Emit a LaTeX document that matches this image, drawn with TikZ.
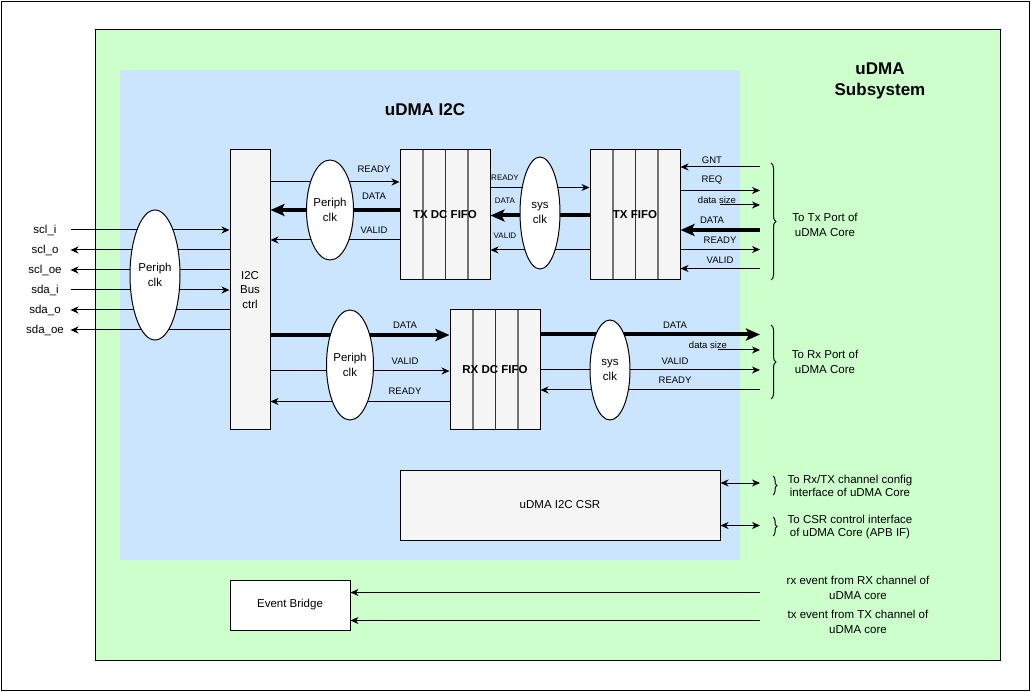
\documentclass[tikz,border=0pt]{standalone}
\usepackage{fontspec}
\setmainfont{Liberation Sans}
\usetikzlibrary{calc,shapes.geometric,arrows.meta,decorations.pathreplacing}

\definecolor{subsys}{HTML}{CCFFCC}
\definecolor{i2cblue}{HTML}{CCE5FF}
\definecolor{boxgray}{HTML}{F5F5F5}

\begin{document}
\begin{tikzpicture}[x=1pt,y=-1pt,line width=1pt,
      font=\fontsize{11.5}{14.5}\selectfont,
      blk/.style={draw,rectangle,fill=boxgray,inner sep=0pt,align=center},
      fifo/.style={blk,minimum width=90pt,font=\fontsize{11.5}{14.5}\selectfont\bfseries,
        path picture={
          \foreach \k in {0.25,0.75}
            \draw[black!55,line width=2pt]
              ($(path picture bounding box.north west)!\k!(path picture bounding box.north east)$) --
              ($(path picture bounding box.south west)!\k!(path picture bounding box.south east)$);
          \draw[black!80] (path picture bounding box.north) -- (path picture bounding box.south);}},
      clk/.style={draw,ellipse,fill=white,inner sep=0pt,align=center},
      sig/.style={-{Stealth[length=8pt,width=7pt,inset=2.5pt]}},
      bus/.style={line width=4pt,-{Stealth[length=14pt,width=12pt,inset=3pt]}},
      both/.style={{Stealth[length=8pt,width=7pt,inset=2.5pt]}-{Stealth[length=8pt,width=7pt,inset=2.5pt]}},
      lbl/.style={font=\fontsize{9.5}{11}\selectfont,inner sep=0pt},
      slbl/.style={font=\fontsize{8}{9}\selectfont,inner sep=0pt},
      pin/.style={minimum width=50pt,inner sep=0pt},
      brc/.style={decorate,decoration={brace,amplitude=5pt}},
      title/.style={font=\fontsize{17}{21}\selectfont\bfseries,align=center}]
    \useasboundingbox (0,0) rectangle (1031,692);
    \draw (1.5,1.5) rectangle (1029.5,690.5);

    % frames
    \draw[fill=subsys] (95,30) rectangle (1000,660);
    \fill[i2cblue] (120,70) rectangle (740,560);
    \node[title] (subsys) at (880,81) {uDMA\\Subsystem};
    \node[title] (i2c) at (425,110) {uDMA I2C};

    % blocks
    \node[blk,minimum width=40pt,minimum height=280pt] (busctrl) at (250,290) {I2C\\Bus\\ctrl};
    \node[fifo,minimum height=130pt] (txdc) at (445,215) {TX DC FIFO};
    \node[fifo,minimum height=130pt] (txfifo) at (635,215) {TX FIFO};
    \node[fifo,minimum height=120pt] (rxdc) at (495,370) {RX DC FIFO};
    \node[blk,minimum width=320pt,minimum height=70pt] (csr) at (560,505) {uDMA I2C CSR};
    \node[blk,fill=white,minimum width=120pt,minimum height=50pt] (evb) at (290,605) {Event Bridge};
    \coordinate (core) at (760,0);

    % i2c pins
    \node[pin] (scli) at (45,230) {scl\_i};
    \node[pin,node distance=20pt,below of=scli] (sclo) {scl\_o};
    \node[pin,node distance=20pt,below of=sclo] (scloe) {scl\_oe};
    \node[pin,node distance=20pt,below of=scloe] (sdai) {sda\_i};
    \node[pin,node distance=20pt,below of=sdai] (sdao) {sda\_o};
    \node[pin,node distance=20pt,below of=sdao] (sdaoe) {sda\_oe};
    \draw[sig] (scli.east) -- (scli -| busctrl.west);
    \draw[sig] (sclo -| busctrl.west) -- (sclo.east);
    \draw[sig] (scloe -| busctrl.west) -- (scloe.east);
    \draw[sig] (sdai.east) -- (sdai -| busctrl.west);
    \draw[sig] (sdao -| busctrl.west) -- (sdao.east);
    \draw[sig] (sdaoe -| busctrl.west) -- (sdaoe.east);

    % tx path
    \draw[sig] (busctrl.east |- 0,182) -- (txdc.west |- 0,182);
    \draw[bus] (txdc.west |- 0,210) -- (busctrl.east |- 0,210);
    \draw[sig] (txdc.west |- 0,240) -- (busctrl.east |- 0,240);
    \node[lbl] (l1) at (374,169) {READY};
    \node[lbl] (l2) at (374,196) {DATA};
    \node[lbl] (l3) at (374,230) {VALID};

    \draw[sig] (txdc.east |- 0,187.5) -- (txfifo.west |- 0,187.5);
    \draw[bus] (txfifo.west |- 0,215.5) -- (txdc.east |- 0,215.5);
    \draw[sig] (txfifo.west |- 0,250) -- (txdc.east |- 0,250);
    \node[slbl] (l4) at (505,178) {READY};
    \node[slbl] (l5) at (505,201) {DATA};
    \node[slbl] (l6) at (505,236) {VALID};

    \coordinate (txdsz) at (720,205);
    \draw[sig] (core |- 0,167) -- (txfifo.east |- 0,167);
    \draw[sig] (txfifo.east |- 0,190.5) -- (core |- 0,190.5);
    \draw[sig] (txdsz) -- (core |- txdsz);
    \draw[bus] (core |- 0,230) -- (txfifo.east |- 0,230);
    \draw[sig] (txfifo.east |- 0,249.5) -- (core |- 0,249.5);
    \draw[sig] (core |- 0,268.5) -- (txfifo.east |- 0,268.5);
    \node[lbl] (l7) at (712,160) {GNT};
    \node[lbl] (l8) at (712,180.5) {REQ};
    \node[lbl] (l9) at (717,200) {data size};
    \node[lbl] (l10) at (712,220.5) {DATA};
    \node[lbl] (l11) at (720,240) {READY};
    \node[lbl] (l12) at (720,260) {VALID};

    \draw[brc] (771,163) -- (771,280);
    \node[align=center] (txcore) at (825,225) {To Tx Port of\\uDMA Core};

    % rx path
    \draw[bus] (busctrl.east |- 0,335) -- (rxdc.west |- 0,335);
    \draw[sig] (busctrl.east |- 0,371) -- (rxdc.west |- 0,371);
    \draw[sig] (rxdc.west |- 0,401.5) -- (busctrl.east |- 0,401.5);
    \node[lbl] (l13) at (405,325.5) {DATA};
    \node[lbl] (l14) at (405,361) {VALID};
    \node[lbl] (l15) at (405,391.5) {READY};

    \coordinate (rxdsz) at (718,350);
    \draw[bus] (rxdc.east |- 0,334.5) -- (core |- 0,334.5);
    \draw[sig] (rxdsz) -- (core |- rxdsz);
    \draw[sig] (rxdc.east |- 0,370) -- (core |- 0,370);
    \draw[sig] (core |- 0,390) -- (rxdc.east |- 0,390);
    \node[lbl] (l16) at (675,325.5) {DATA};
    \node[lbl] (l17) at (708,345.5) {data size};
    \node[lbl] (l18) at (675,361) {VALID};
    \node[lbl] (l19) at (675,380) {READY};

    \draw[brc] (771,325) -- (771,399);
    \node[align=center] (rxcore) at (825,362) {To Rx Port of\\uDMA Core};

    % clock domain crossings
    \node[clk,minimum width=50pt,minimum height=130pt] (pclk0) at (155,275) {Periph\\clk};
    \node[clk,minimum width=38pt,minimum height=100pt] (pclk1) at (330,210) {Periph\\clk};
    \node[clk,minimum width=40pt,minimum height=112pt] (sclk1) at (540,213) {sys\\clk};
    \node[clk,minimum width=39pt,minimum height=110pt] (pclk2) at (350,365) {Periph\\clk};
    \node[clk,minimum width=40pt,minimum height=100pt] (sclk2) at (610,370) {sys\\clk};

    % csr
    \draw[both] (csr.east |- 0,483) -- (core |- 0,483);
    \draw[both] (csr.east |- 0,525.5) -- (core |- 0,525.5);
    \draw[brc,decoration={amplitude=4pt}] (773,476) -- (773,495);
    \draw[brc,decoration={amplitude=4pt}] (773,517) -- (773,536);
    \node[align=center,font=\fontsize{11.5}{13.5}\selectfont] (cfgif) at (850,486) {To Rx/TX channel config\\interface of uDMA Core};
    \node[align=center,font=\fontsize{11.5}{13.5}\selectfont] (apbif) at (850,527) {To CSR control interface\\of uDMA Core (APB IF)};

    % events
    \draw[sig] (core |- 0,592.5) -- (evb.east |- 0,592.5);
    \draw[sig] (core |- 0,620.5) -- (evb.east |- 0,620.5);
    \node[align=center] (rxevt) at (858,588) {rx event from RX channel of\\uDMA core};
    \node[align=center] (txevt) at (858,622) {tx event from TX channel of\\uDMA core};

\end{tikzpicture}
\end{document}
